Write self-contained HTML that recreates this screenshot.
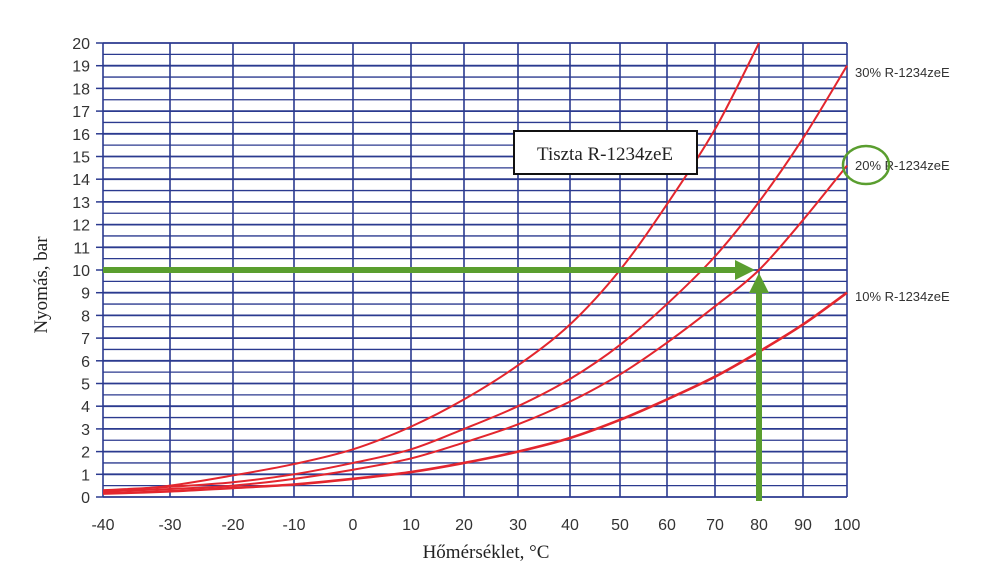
<!DOCTYPE html>
<html><head><meta charset="utf-8"><style>
body{margin:0;background:#fff;width:1004px;height:565px;overflow:hidden}
svg{display:block}
.tick{font-family:"Liberation Sans",sans-serif;font-size:16px;fill:#333}
.lbl{font-family:"Liberation Sans",sans-serif;font-size:13px;fill:#333}
.ser{font-family:"Liberation Serif",serif;font-size:19px;fill:#222}
</style></head><body>
<svg id="chart" width="1004" height="565" viewBox="0 0 1004 565" xmlns="http://www.w3.org/2000/svg">
<g id="grid"></g>
<g id="curves"></g>
<g id="axes"></g>
<g id="arrows"></g>
<g>
<rect x="514" y="131" width="183" height="43" fill="#fff" stroke="#111" stroke-width="2"/>
<text class="ser" x="605" y="160" text-anchor="middle">Tiszta R-1234zeE</text>
</g>
<text class="lbl" x="855" y="77">30% R-1234zeE</text>
<text class="lbl" x="855" y="170">20% R-1234zeE</text>
<text class="lbl" x="855" y="301">10% R-1234zeE</text>
<ellipse cx="866" cy="165" rx="23" ry="19" fill="none" stroke="#5a9e2f" stroke-width="2.5"/>
<text class="ser" x="486" y="558" text-anchor="middle">Hőmérséklet, °C</text>
<text class="ser" transform="translate(47,285) rotate(-90)" text-anchor="middle">Nyomás, bar</text>
</svg>
<script>
const xTicks=[-40,-30,-20,-10,0,10,20,30,40,50,60,70,80,90,100];
const xTickPx=[103,170,233,294,353,411,464,518,570,620,667,715,759,803,847];
const yTicks=[0,1,2,3,4,5,6,7,8,9,10,11,12,13,14,15,16,17,18,19,20];
const temps=[-40,-30,-20,-10,0,10,20,30,40,50,60,70,80,90,100];
const purePress=[0.2,0.5,0.95,1.45,2.1,3.1,4.3,5.8,7.6,10,12.9,16.2,20];
const p30=[0.3,0.45,0.65,1.0,1.5,2.1,3.0,4.0,5.2,6.7,8.5,10.6,13,15.8,19];
const p20=[0.25,0.35,0.5,0.8,1.2,1.7,2.4,3.2,4.2,5.4,6.8,8.4,10,12.2,14.6];
const p10=[0.15,0.25,0.4,0.55,0.8,1.1,1.5,2.0,2.6,3.4,4.3,5.3,6.4,7.6,9];
const markT=80, markP=10;
const NS="http://www.w3.org/2000/svg";
const Y0=497,Y1=43;
function xs(t){for(let i=0;i<xTicks.length-1;i++){if(t<=xTicks[i+1]||i===xTicks.length-2){const f=(t-xTicks[i])/(xTicks[i+1]-xTicks[i]);return xTickPx[i]+f*(xTickPx[i+1]-xTickPx[i]);}}}
function ys(p){return Y0+(Y1-Y0)*p/20;}
function mk(tag,attrs,parent){const e=document.createElementNS(NS,tag);for(const k in attrs)e.setAttribute(k,attrs[k]);parent.appendChild(e);return e;}
const grid=document.getElementById('grid'),axes=document.getElementById('axes'),curves=document.getElementById('curves'),arrows=document.getElementById('arrows');
const gc="#2b3a8f";
for(let h=0;h<=40;h++){const p=h/2;const l=mk('line',{x1:xs(-40),x2:xs(100),y1:ys(p),y2:ys(p),stroke:gc,'stroke-width':h%2?1.3:1.8},grid);

}
xTicks.forEach(t=>{const l=mk('line',{x1:xs(t),x2:xs(t),y1:ys(0),y2:ys(20),stroke:gc,'stroke-width':1.6},grid);


const tx=mk('text',{x:xs(t),y:530,'text-anchor':'middle',class:'tick'},axes);tx.textContent=t;

});
yTicks.forEach(p=>{const tk=mk('line',{x1:96,x2:103,y1:ys(p),y2:ys(p),stroke:gc,'stroke-width':1.5},axes);


const tx=mk('text',{x:90,y:ys(p)+6,'text-anchor':'end',class:'tick'},axes);tx.textContent=p;

});
function path(vals){const pts=vals.map((v,i)=>[xs(temps[i]),ys(v)]);let d=`M${pts[0][0]},${pts[0][1]}`;
for(let i=0;i<pts.length-1;i++){const p0=pts[Math.max(0,i-1)],p1=pts[i],p2=pts[i+1],p3=pts[Math.min(pts.length-1,i+2)];
d+=` C${p1[0]+(p2[0]-p0[0])/6},${p1[1]+(p2[1]-p0[1])/6} ${p2[0]-(p3[0]-p1[0])/6},${p2[1]-(p3[1]-p1[1])/6} ${p2[0]},${p2[1]}`;}return d;}
[[purePress,'curve-pure'],[p30,'curve-30pct'],[p20,'curve-20pct'],[p10,'curve-10pct']].forEach(([v,n])=>{
const c=mk('path',{d:path(v),fill:'none',stroke:'#e3262e','stroke-width':n==='curve-10pct'?2.6:2},curves);

});
const g="#5a9e2f";const ax=xs(markT),ay=ys(markP);
const h=mk('line',{x1:xs(-40),x2:ax-20,y1:ay,y2:ay,stroke:g,'stroke-width':6},arrows);


const hh=mk('polygon',{points:`${ax-4},${ay} ${ax-24},${ay-10} ${ax-24},${ay+10}`,fill:g},arrows);


const v=mk('line',{x1:ax,x2:ax,y1:ys(0)+4,y2:ay+20,stroke:g,'stroke-width':6},arrows);


const vh=mk('polygon',{points:`${ax},${ay+3} ${ax-10},${ay+23} ${ax+10},${ay+23}`,fill:g},arrows);


</script>
</body></html>
